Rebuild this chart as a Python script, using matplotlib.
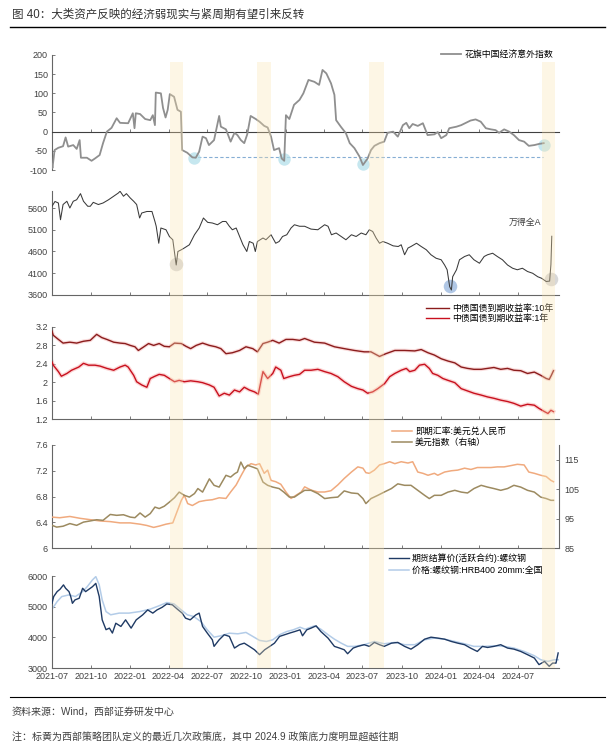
import matplotlib
matplotlib.use("Agg")
import matplotlib.pyplot as plt
import matplotlib.dates as mdates
import matplotlib.transforms as mtransforms
from matplotlib.patches import Rectangle
from matplotlib.lines import Line2D
import pandas as pd

plt.rcParams['font.family'] = ['Liberation Sans', 'Noto Sans CJK SC']
plt.rcParams['axes.unicode_minus'] = False

# ---- data ----
citi = [("2021-07-01", -85), ("2021-07-02", -95), ("2021-07-05", -68), ("2021-07-07", -48),
        ("2021-07-16", -42), ("2021-07-27", -38), ("2021-08-02", -15), ("2021-08-08", -39),
        ("2021-08-20", -35), ("2021-08-28", -45), ("2021-09-04", -22), ("2021-09-07", -68),
        ("2021-09-21", -68), ("2021-10-02", -76), ("2021-10-10", -70), ("2021-10-21", -61),
        ("2021-10-29", -30), ("2021-11-07", 0), ("2021-11-18", 10), ("2021-11-30", 35),
        ("2021-12-08", 23), ("2021-12-27", 22), ("2022-01-07", 48), ("2022-01-11", 9),
        ("2022-01-14", 48), ("2022-01-24", 46), ("2022-02-05", 33), ("2022-02-17", 30),
        ("2022-02-23", 43), ("2022-02-28", 17), ("2022-03-02", 102), ("2022-03-14", 100),
        ("2022-03-19", 62), ("2022-03-25", 37), ("2022-03-30", 57), ("2022-04-04", 98),
        ("2022-04-14", 91), ("2022-04-22", 57), ("2022-04-30", 52), ("2022-05-03", -48),
        ("2022-05-15", -55), ("2022-05-27", -67), ("2022-06-04", -68), ("2022-06-12", -52),
        ("2022-06-20", -13), ("2022-06-28", -17), ("2022-07-05", -35), ("2022-07-17", -22),
        ("2022-07-29", 41), ("2022-08-02", 13), ("2022-08-14", 6), ("2022-08-25", -26),
        ("2022-09-03", -3), ("2022-09-10", -9), ("2022-09-18", -22), ("2022-09-26", -30),
        ("2022-10-03", -7), ("2022-10-11", 41), ("2022-10-23", 33), ("2022-11-01", 26),
        ("2022-11-12", 15), ("2022-11-20", 11), ("2022-11-28", -13), ("2022-12-05", -48),
        ("2022-12-17", -43), ("2022-12-23", -70), ("2022-12-29", -76), ("2023-01-02", 43),
        ("2023-01-10", 33), ("2023-01-21", 70), ("2023-02-03", 83), ("2023-02-12", 100),
        ("2023-02-24", 135), ("2023-03-10", 130), ("2023-03-21", 122), ("2023-03-29", 161),
        ("2023-04-07", 152), ("2023-04-18", 126), ("2023-04-26", 96), ("2023-04-30", 30),
        ("2023-05-11", 13), ("2023-05-23", -4), ("2023-06-01", -30), ("2023-06-12", -43),
        ("2023-06-24", -65), ("2023-07-02", -87), ("2023-07-13", -70), ("2023-07-21", -48),
        ("2023-07-29", -37), ("2023-08-10", -30), ("2023-08-21", -26), ("2023-08-29", -3),
        ("2023-09-11", 0), ("2023-09-22", -13), ("2023-10-04", 17), ("2023-10-12", 23),
        ("2023-10-19", 9), ("2023-10-27", 20), ("2023-11-08", 15), ("2023-11-20", 22),
        ("2023-12-01", -9), ("2023-12-17", -7), ("2023-12-25", -1), ("2024-01-02", -17),
        ("2024-01-14", -9), ("2024-01-21", 9), ("2024-02-07", 13), ("2024-02-18", 17),
        ("2024-02-29", 23), ("2024-03-11", 29), ("2024-03-23", 32), ("2024-04-04", 26),
        ("2024-04-16", 9), ("2024-04-28", 6), ("2024-05-09", 4), ("2024-05-17", -3),
        ("2024-05-29", 6), ("2024-06-10", 0), ("2024-06-21", -9), ("2024-07-03", -22),
        ("2024-07-15", -26), ("2024-07-26", -37), ("2024-08-08", -35), ("2024-08-19", -32),
        ("2024-08-30", -30)]
citi_lows = [("2022-06-01", -68), ("2022-12-28", -72), ("2023-07-02", -84), ("2024-08-30", -35)]
citi_floor = [("2022-05-27", -66), ("2024-08-28", -66)]

wind = [("2021-07-01", 5640), ("2021-07-08", 5750), ("2021-07-16", 5715), ("2021-07-21", 5330),
        ("2021-07-27", 5680), ("2021-08-05", 5755), ("2021-08-12", 5600), ("2021-08-20", 5755),
        ("2021-08-28", 5790), ("2021-09-06", 5930), ("2021-09-13", 5755), ("2021-09-23", 5640),
        ("2021-09-29", 5640), ("2021-10-06", 5730), ("2021-10-18", 5680), ("2021-10-29", 5715),
        ("2021-11-11", 5790), ("2021-11-23", 5870), ("2021-12-04", 5945), ("2021-12-08", 5985),
        ("2021-12-16", 5870), ("2021-12-23", 5930), ("2022-01-01", 5830), ("2022-01-09", 5755),
        ("2022-01-16", 5680), ("2022-01-23", 5370), ("2022-01-28", 5485), ("2022-02-09", 5520),
        ("2022-02-21", 5520), ("2022-02-28", 5290), ("2022-03-03", 5180), ("2022-03-09", 4790),
        ("2022-03-14", 5140), ("2022-03-26", 5100), ("2022-04-03", 4945), ("2022-04-11", 4870),
        ("2022-04-19", 4290), ("2022-04-23", 4600), ("2022-05-01", 4640), ("2022-05-08", 4680),
        ("2022-05-20", 4755), ("2022-06-01", 4985), ("2022-06-12", 5140), ("2022-06-22", 5370),
        ("2022-07-02", 5270), ("2022-07-13", 5255), ("2022-07-25", 5215), ("2022-08-06", 5290),
        ("2022-08-14", 5290), ("2022-08-22", 5180), ("2022-08-29", 5100), ("2022-09-07", 5140),
        ("2022-09-15", 4945), ("2022-09-23", 4755), ("2022-10-02", 4600), ("2022-10-08", 4830),
        ("2022-10-17", 4790), ("2022-10-22", 4600), ("2022-10-27", 4830), ("2022-11-09", 4910),
        ("2022-11-16", 4870), ("2022-11-28", 4985), ("2022-12-09", 4790), ("2022-12-17", 4830),
        ("2022-12-25", 4945), ("2023-01-04", 4985), ("2023-01-14", 5140), ("2023-01-22", 5215),
        ("2023-02-03", 5180), ("2023-02-15", 5180), ("2023-03-02", 5115), ("2023-03-18", 5100),
        ("2023-04-03", 5215), ("2023-04-11", 5180), ("2023-04-19", 4985), ("2023-04-30", 5025),
        ("2023-05-12", 4945), ("2023-05-23", 4870), ("2023-06-05", 4985), ("2023-06-16", 4945),
        ("2023-06-28", 5025), ("2023-07-09", 4985), ("2023-07-17", 5100), ("2023-07-25", 5060),
        ("2023-08-02", 4910), ("2023-08-10", 4790), ("2023-08-18", 4830), ("2023-08-29", 4790),
        ("2023-09-11", 4730), ("2023-09-23", 4715), ("2023-09-30", 4755), ("2023-10-08", 4525),
        ("2023-10-16", 4680), ("2023-10-23", 4715), ("2023-11-05", 4790), ("2023-11-16", 4715),
        ("2023-11-28", 4640), ("2023-12-09", 4525), ("2023-12-21", 4445), ("2024-01-02", 4410),
        ("2024-01-10", 4290), ("2024-01-16", 4180), ("2024-01-22", 3790), ("2024-01-26", 3715),
        ("2024-01-29", 4020), ("2024-02-07", 4180), ("2024-02-14", 4410), ("2024-02-26", 4485),
        ("2024-03-08", 4525), ("2024-03-19", 4410), ("2024-04-01", 4330), ("2024-04-12", 4485),
        ("2024-04-20", 4525), ("2024-05-02", 4560), ("2024-05-13", 4485), ("2024-05-25", 4410),
        ("2024-06-06", 4290), ("2024-06-18", 4215), ("2024-06-29", 4180), ("2024-07-11", 4215),
        ("2024-07-23", 4140), ("2024-08-04", 4100), ("2024-08-16", 4020), ("2024-08-25", 3985),
        ("2024-09-05", 3910), ("2024-09-13", 3920), ("2024-09-16", 4300), ("2024-09-18", 4950)]
wind_lows_gray = [("2022-04-19", 4310), ("2024-09-16", 3960)]
wind_low_blue = [("2024-01-22", 3810)]

cgb10 = [("2021-07-01", 3.11), ("2021-07-04", 3.02), ("2021-07-16", 2.93), ("2021-07-27", 2.85),
         ("2021-08-12", 2.87), ("2021-08-28", 2.85), ("2021-09-13", 2.89), ("2021-09-29", 2.91),
         ("2021-10-14", 3.04), ("2021-10-26", 2.97), ("2021-11-07", 2.93), ("2021-11-23", 2.87),
         ("2021-12-08", 2.85), ("2021-12-20", 2.84), ("2022-01-01", 2.80), ("2022-01-12", 2.77),
         ("2022-01-20", 2.69), ("2022-02-02", 2.77), ("2022-02-13", 2.84), ("2022-02-25", 2.80),
         ("2022-03-10", 2.84), ("2022-03-22", 2.78), ("2022-04-03", 2.77), ("2022-04-15", 2.85),
         ("2022-05-01", 2.84), ("2022-05-12", 2.78), ("2022-05-23", 2.73), ("2022-06-05", 2.80),
         ("2022-06-20", 2.85), ("2022-07-06", 2.80), ("2022-07-21", 2.77), ("2022-08-02", 2.73),
         ("2022-08-14", 2.62), ("2022-08-29", 2.64), ("2022-09-15", 2.69), ("2022-09-30", 2.77),
         ("2022-10-16", 2.73), ("2022-10-27", 2.66), ("2022-11-09", 2.84), ("2022-11-20", 2.87),
         ("2022-12-02", 2.91), ("2022-12-17", 2.85), ("2023-01-02", 2.93), ("2023-01-18", 2.93),
         ("2023-02-03", 2.91), ("2023-02-15", 2.95), ("2023-03-10", 2.87), ("2023-04-03", 2.85),
         ("2023-04-26", 2.77), ("2023-05-19", 2.73), ("2023-06-12", 2.69), ("2023-07-05", 2.66),
         ("2023-07-21", 2.66), ("2023-08-10", 2.56), ("2023-08-25", 2.62), ("2023-09-15", 2.69),
         ("2023-10-08", 2.69), ("2023-11-01", 2.68), ("2023-11-16", 2.71), ("2023-12-02", 2.64),
         ("2023-12-17", 2.59), ("2024-01-02", 2.51), ("2024-01-18", 2.46), ("2024-02-03", 2.42),
         ("2024-02-18", 2.33), ("2024-03-04", 2.30), ("2024-03-19", 2.28), ("2024-04-05", 2.28),
         ("2024-04-20", 2.30), ("2024-05-05", 2.32), ("2024-05-21", 2.28), ("2024-06-06", 2.30),
         ("2024-06-21", 2.26), ("2024-07-07", 2.25), ("2024-07-23", 2.19), ("2024-08-08", 2.22),
         ("2024-08-23", 2.15), ("2024-09-05", 2.08), ("2024-09-12", 2.06), ("2024-09-17", 2.15),
         ("2024-09-22", 2.25)]

cgb1 = [("2021-07-01", 2.44), ("2021-07-04", 2.37), ("2021-07-16", 2.23), ("2021-07-23", 2.13),
        ("2021-08-05", 2.19), ("2021-08-16", 2.26), ("2021-09-02", 2.33), ("2021-09-13", 2.41),
        ("2021-09-25", 2.37), ("2021-10-10", 2.37), ("2021-10-22", 2.35), ("2021-11-07", 2.30),
        ("2021-11-23", 2.26), ("2021-12-08", 2.33), ("2021-12-20", 2.37), ("2021-12-27", 2.33),
        ("2022-01-09", 2.15), ("2022-01-16", 2.01), ("2022-01-28", 1.94), ("2022-02-09", 1.89),
        ("2022-02-17", 2.08), ("2022-02-28", 2.13), ("2022-03-10", 2.17), ("2022-03-22", 2.15),
        ("2022-04-03", 2.08), ("2022-04-15", 2.01), ("2022-04-26", 2.04), ("2022-05-08", 2.01),
        ("2022-05-23", 2.03), ("2022-06-09", 2.01), ("2022-06-20", 1.99), ("2022-07-06", 1.94),
        ("2022-07-17", 1.89), ("2022-07-29", 1.70), ("2022-08-10", 1.76), ("2022-08-22", 1.72),
        ("2022-09-03", 1.83), ("2022-09-15", 1.79), ("2022-09-26", 1.89), ("2022-10-08", 1.83),
        ("2022-10-20", 1.79), ("2022-10-29", 1.74), ("2022-11-09", 2.23), ("2022-11-20", 2.08),
        ("2022-12-02", 2.19), ("2022-12-09", 2.33), ("2022-12-21", 2.26), ("2022-12-28", 2.08),
        ("2023-01-10", 2.12), ("2023-01-22", 2.15), ("2023-02-03", 2.17), ("2023-02-15", 2.26),
        ("2023-03-02", 2.26), ("2023-03-18", 2.28), ("2023-04-03", 2.23), ("2023-04-18", 2.19),
        ("2023-05-04", 2.12), ("2023-05-19", 2.01), ("2023-06-05", 1.91), ("2023-06-20", 1.86),
        ("2023-07-02", 1.83), ("2023-07-13", 1.76), ("2023-07-25", 1.79), ("2023-08-06", 1.86),
        ("2023-08-22", 1.97), ("2023-09-03", 2.12), ("2023-09-15", 2.19), ("2023-09-30", 2.26),
        ("2023-10-12", 2.30), ("2023-10-20", 2.23), ("2023-11-01", 2.26), ("2023-11-12", 2.37),
        ("2023-11-24", 2.39), ("2023-12-05", 2.30), ("2023-12-13", 2.19), ("2023-12-25", 2.15),
        ("2024-01-06", 2.08), ("2024-01-18", 2.04), ("2024-02-03", 1.99), ("2024-02-18", 1.86),
        ("2024-03-04", 1.81), ("2024-03-19", 1.76), ("2024-04-05", 1.72), ("2024-04-20", 1.68),
        ("2024-05-05", 1.65), ("2024-05-21", 1.61), ("2024-06-06", 1.58), ("2024-06-21", 1.54),
        ("2024-07-07", 1.48), ("2024-07-23", 1.52), ("2024-08-08", 1.50), ("2024-08-19", 1.43),
        ("2024-09-01", 1.36), ("2024-09-09", 1.32), ("2024-09-16", 1.39), ("2024-09-22", 1.36)]

usdcny = [("2021-07-01", 6.48), ("2021-07-19", 6.47), ("2021-08-12", 6.49), ("2021-09-06", 6.46),
          ("2021-09-29", 6.44), ("2021-10-22", 6.42), ("2021-11-15", 6.41), ("2021-12-08", 6.39),
          ("2022-01-01", 6.39), ("2022-01-24", 6.37), ("2022-02-09", 6.35), ("2022-02-25", 6.32),
          ("2022-03-10", 6.34), ("2022-03-26", 6.37), ("2022-04-11", 6.39), ("2022-04-19", 6.53),
          ("2022-05-01", 6.74), ("2022-05-08", 6.82), ("2022-05-16", 6.69), ("2022-05-27", 6.66),
          ("2022-06-12", 6.72), ("2022-06-28", 6.74), ("2022-07-13", 6.75), ("2022-07-29", 6.78),
          ("2022-08-14", 6.77), ("2022-08-25", 6.87), ("2022-09-07", 6.98), ("2022-09-19", 7.13),
          ("2022-09-30", 7.26), ("2022-10-12", 7.31), ("2022-10-23", 7.29), ("2022-11-01", 7.31),
          ("2022-11-12", 7.16), ("2022-11-20", 7.21), ("2022-11-28", 7.05), ("2022-12-09", 7.03),
          ("2022-12-21", 6.99), ("2023-01-02", 6.87), ("2023-01-14", 6.77), ("2023-01-26", 6.82),
          ("2023-02-07", 6.87), ("2023-02-15", 6.95), ("2023-03-02", 6.90), ("2023-03-18", 6.87),
          ("2023-04-03", 6.87), ("2023-04-18", 6.89), ("2023-05-04", 6.98), ("2023-05-19", 7.08),
          ("2023-06-05", 7.18), ("2023-06-20", 7.26), ("2023-07-02", 7.24), ("2023-07-09", 7.17),
          ("2023-07-17", 7.16), ("2023-07-29", 7.21), ("2023-08-10", 7.29), ("2023-08-21", 7.31),
          ("2023-09-03", 7.34), ("2023-09-15", 7.31), ("2023-09-30", 7.34), ("2023-10-16", 7.32),
          ("2023-10-27", 7.34), ("2023-11-08", 7.18), ("2023-11-20", 7.16), ("2023-12-02", 7.13),
          ("2023-12-17", 7.16), ("2023-12-25", 7.13), ("2024-01-10", 7.18), ("2024-01-26", 7.20),
          ("2024-02-10", 7.21), ("2024-02-26", 7.24), ("2024-03-12", 7.22), ("2024-03-27", 7.25),
          ("2024-04-12", 7.25), ("2024-04-28", 7.25), ("2024-05-13", 7.26), ("2024-05-29", 7.26),
          ("2024-06-14", 7.28), ("2024-06-29", 7.30), ("2024-07-15", 7.29), ("2024-07-26", 7.18),
          ("2024-08-08", 7.16), ("2024-08-23", 7.13), ("2024-09-05", 7.11), ("2024-09-16", 7.05),
          ("2024-09-22", 7.03)]

dxy = [("2021-07-01", 92.7), ("2021-07-12", 92.1), ("2021-07-27", 92.4), ("2021-08-12", 93.3),
       ("2021-08-28", 92.7), ("2021-09-13", 93.8), ("2021-09-29", 94.2), ("2021-10-14", 94.6),
       ("2021-10-29", 94.4), ("2021-11-15", 96.4), ("2021-11-30", 96.1), ("2021-12-16", 96.3),
       ("2022-01-01", 95.5), ("2022-01-12", 95.3), ("2022-01-24", 96.9), ("2022-02-05", 95.5),
       ("2022-02-17", 96.7), ("2022-02-28", 98.9), ("2022-03-10", 98.4), ("2022-03-22", 99.2),
       ("2022-04-03", 100.6), ("2022-04-15", 102.1), ("2022-04-26", 104.0), ("2022-05-08", 102.9),
       ("2022-05-20", 102.3), ("2022-06-01", 103.5), ("2022-06-09", 105.2), ("2022-06-20", 104.0),
       ("2022-07-06", 108.5), ("2022-07-17", 106.3), ("2022-07-29", 105.7), ("2022-08-14", 109.7),
       ("2022-08-25", 109.1), ("2022-09-03", 110.2), ("2022-09-10", 110.8), ("2022-09-18", 114.2),
       ("2022-09-26", 111.9), ("2022-10-04", 113.1), ("2022-10-16", 112.5), ("2022-10-27", 111.9),
       ("2022-11-09", 107.4), ("2022-11-20", 106.3), ("2022-12-02", 105.7), ("2022-12-17", 105.2),
       ("2022-12-28", 104.0), ("2023-01-10", 102.3), ("2023-01-22", 102.3), ("2023-02-03", 103.5),
       ("2023-02-15", 104.6), ("2023-03-02", 104.6), ("2023-03-18", 103.5), ("2023-04-03", 101.8),
       ("2023-04-18", 102.1), ("2023-05-04", 102.3), ("2023-05-19", 104.4), ("2023-06-05", 103.7),
       ("2023-06-20", 103.5), ("2023-07-02", 101.8), ("2023-07-09", 100.1), ("2023-07-21", 101.8),
       ("2023-08-06", 102.9), ("2023-08-21", 104.0), ("2023-09-07", 105.2), ("2023-09-22", 106.8),
       ("2023-10-08", 106.3), ("2023-10-23", 106.3), ("2023-11-08", 104.6), ("2023-11-24", 102.9),
       ("2023-12-05", 101.8), ("2023-12-17", 102.9), ("2024-01-02", 102.9), ("2024-01-18", 104.0),
       ("2024-02-03", 104.6), ("2024-02-18", 104.0), ("2024-03-04", 103.7), ("2024-03-19", 105.2),
       ("2024-04-05", 106.3), ("2024-04-20", 105.7), ("2024-05-05", 105.2), ("2024-05-21", 104.6),
       ("2024-06-06", 105.2), ("2024-06-21", 106.3), ("2024-07-07", 105.7), ("2024-07-23", 104.6),
       ("2024-08-08", 104.0), ("2024-08-23", 102.3), ("2024-09-05", 101.8), ("2024-09-16", 101.2),
       ("2024-09-22", 101.2)]

rebar_fut = [("2021-07-01", 5110), ("2021-07-05", 5330), ("2021-07-13", 5490), ("2021-07-20", 5570),
             ("2021-07-28", 5710), ("2021-08-02", 5600), ("2021-08-10", 5490), ("2021-08-14", 5330),
             ("2021-08-18", 5110), ("2021-08-24", 5220), ("2021-09-03", 5275), ("2021-09-11", 5600),
             ("2021-09-18", 5490), ("2021-09-26", 5570), ("2021-10-04", 5650), ("2021-10-12", 5760),
             ("2021-10-20", 5330), ("2021-10-27", 4570), ("2021-11-05", 4250), ("2021-11-13", 4300),
             ("2021-11-20", 4140), ("2021-11-28", 4460), ("2021-12-10", 4355), ("2021-12-21", 4570),
             ("2022-01-03", 4300), ("2022-01-15", 4570), ("2022-01-30", 4730), ("2022-02-11", 4895),
             ("2022-02-23", 4790), ("2022-03-05", 4895), ("2022-03-17", 4980), ("2022-03-28", 5090),
             ("2022-04-10", 5060), ("2022-04-22", 4915), ("2022-05-03", 4790), ("2022-05-11", 4625),
             ("2022-05-22", 4570), ("2022-06-04", 4730), ("2022-06-12", 4790), ("2022-06-20", 4355),
             ("2022-07-01", 4140), ("2022-07-13", 3920), ("2022-07-17", 3705), ("2022-07-29", 3920),
             ("2022-08-10", 4085), ("2022-08-22", 4030), ("2022-09-03", 3650), ("2022-09-15", 3760),
             ("2022-09-26", 3810), ("2022-10-08", 3705), ("2022-10-20", 3595), ("2022-11-01", 3435),
             ("2022-11-13", 3595), ("2022-11-25", 3705), ("2022-12-06", 3810), ("2022-12-18", 4030),
             ("2022-12-30", 4085), ("2023-01-11", 4140), ("2023-01-23", 4190), ("2023-02-04", 4245),
             ("2023-02-10", 4050), ("2023-02-20", 4245), ("2023-03-02", 4300), ("2023-03-14", 4375),
             ("2023-03-25", 4190), ("2023-04-11", 3975), ("2023-04-26", 3705), ("2023-05-08", 3650),
             ("2023-05-19", 3595), ("2023-05-27", 3465), ("2023-06-09", 3650), ("2023-06-20", 3705),
             ("2023-07-05", 3760), ("2023-07-17", 3705), ("2023-07-29", 3835), ("2023-08-10", 3760),
             ("2023-08-21", 3705), ("2023-09-07", 3810), ("2023-09-22", 3835), ("2023-10-08", 3705),
             ("2023-10-23", 3615), ("2023-11-08", 3760), ("2023-11-24", 3940), ("2023-12-09", 4005),
             ("2023-12-25", 3975), ("2024-01-10", 3940), ("2024-01-26", 3865), ("2024-02-10", 3810),
             ("2024-02-26", 3760), ("2024-03-11", 3650), ("2024-03-27", 3540), ("2024-04-08", 3705),
             ("2024-04-20", 3670), ("2024-05-05", 3705), ("2024-05-21", 3760), ("2024-06-06", 3650),
             ("2024-06-21", 3615), ("2024-07-07", 3540), ("2024-07-23", 3435), ("2024-08-08", 3325),
             ("2024-08-19", 3110), ("2024-09-01", 3215), ("2024-09-12", 3055), ("2024-09-20", 3160),
             ("2024-09-28", 3160), ("2024-10-03", 3490)]

rebar_spot = [("2021-07-01", 4915), ("2021-07-13", 5165), ("2021-07-24", 5330), ("2021-08-10", 5385),
              ("2021-08-25", 5330), ("2021-09-11", 5490), ("2021-09-22", 5655), ("2021-10-04", 5870),
              ("2021-10-12", 5980), ("2021-10-20", 5710), ("2021-10-27", 5220), ("2021-11-05", 4840),
              ("2021-11-16", 4735), ("2021-12-06", 4790), ("2021-12-29", 4790), ("2022-01-23", 4840),
              ("2022-02-16", 4915), ("2022-03-09", 5025), ("2022-03-28", 5135), ("2022-04-14", 5090),
              ("2022-04-29", 4915), ("2022-05-15", 4735), ("2022-05-30", 4680), ("2022-06-16", 4515),
              ("2022-07-01", 4245), ("2022-07-17", 4005), ("2022-08-02", 4050), ("2022-08-22", 4135),
              ("2022-09-11", 4115), ("2022-09-30", 4160), ("2022-10-16", 4030), ("2022-11-01", 3900),
              ("2022-11-17", 3865), ("2022-12-02", 3920), ("2022-12-18", 4085), ("2023-01-04", 4190),
              ("2023-01-19", 4245), ("2023-02-04", 4330), ("2023-02-16", 4265), ("2023-03-10", 4375),
              ("2023-03-25", 4265), ("2023-04-11", 4085), ("2023-04-26", 3940), ("2023-05-12", 3810),
              ("2023-05-27", 3705), ("2023-06-12", 3705), ("2023-07-05", 3760), ("2023-07-29", 3865),
              ("2023-08-21", 3790), ("2023-09-15", 3835), ("2023-10-08", 3760), ("2023-11-01", 3760),
              ("2023-11-24", 3920), ("2023-12-17", 3975), ("2024-01-10", 3940), ("2024-02-03", 3865),
              ("2024-02-26", 3790), ("2024-03-19", 3705), ("2024-04-12", 3705), ("2024-05-05", 3725),
              ("2024-05-29", 3705), ("2024-06-21", 3650), ("2024-07-15", 3540), ("2024-08-08", 3400),
              ("2024-08-23", 3270), ("2024-09-09", 3215), ("2024-09-24", 3270), ("2024-10-03", 3270)]

# policy bottoms (yellow)
bands = [("2022-04-05", "2022-05-05"), ("2022-10-26", "2022-11-28"),
         ("2023-07-16", "2023-08-21"), ("2024-08-26", "2024-09-26")]

x_ticks = ["2021-07", "2021-10", "2022-01", "2022-04", "2022-07", "2022-10", "2023-01",
           "2023-04", "2023-07", "2023-10", "2024-01", "2024-04", "2024-07"]


def unzip(pairs):
    return pd.to_datetime([p[0] for p in pairs]), [p[1] for p in pairs]


W, H = 612, 746
fig = plt.figure(figsize=(W / 100, H / 100), dpi=100)
x0, x1 = pd.Timestamp("2021-07-01"), pd.Timestamp("2024-10-05")
AX = "#666666"
TXT = "#404040"


def px_axes(top, bottom, left=52, right=559):
    return fig.add_axes([left / W, 1 - bottom / H, (right - left) / W, (bottom - top) / H])


def style(ax, show_x=False):
    ax.set_facecolor("none")
    ax.spines["top"].set_visible(False)
    ax.spines["right"].set_visible(False)
    for s in ["left", "bottom"]:
        ax.spines[s].set_color(AX)
        ax.spines[s].set_linewidth(0.8)
    ax.tick_params(direction="in", length=2.5, width=0.6, color=AX,
                   labelsize=6.5, labelcolor=TXT, pad=3)
    ax.set_xlim(x0, x1)
    ax.set_xticks(pd.to_datetime(x_ticks))
    if show_x:
        ax.set_xticklabels(x_ticks)
    else:
        ax.set_xticklabels([])


# panel 1: citi surprise index
ax1 = px_axes(55, 170)
style(ax1)
d, v = unzip(citi)
ax1.plot(d, v, color="#8f8f8f", lw=1.3, zorder=3)
d, v = unzip(citi_floor)
ax1.plot(d, v, color="#86aed4", lw=0.8, ls=(0, (3, 2)), zorder=2)
d, v = unzip(citi_lows)
ax1.scatter(d, v, s=80, color="#b4e0ea", alpha=0.75, lw=0, zorder=2)
ax1.set_ylim(-100, 200)
ax1.set_yticks([-100, -50, 0, 50, 100, 150, 200])
ax1.spines["bottom"].set_position(("data", 0))
ax1.spines["bottom"].set_color("#404040")
ax1.legend(handles=[Line2D([], [], color="#8f8f8f", lw=1.3)], labels=["花旗中国经济意外指数"],
           loc="upper left", bbox_to_anchor=(441 / W, 1 - 50 / H), bbox_transform=fig.transFigure,
           frameon=False, fontsize=6.4, handlelength=2.3, handletextpad=0.3,
           borderaxespad=0, borderpad=0)

# panel 2: wind all A
ax2 = px_axes(190.6, 295)
style(ax2)
d, v = unzip(wind)
ax2.plot(d, v, color="#3a3a3a", lw=0.75, zorder=3)
d, v = unzip(wind_lows_gray)
ax2.scatter(d, v, s=95, color="#c8c8c8", alpha=0.7, lw=0, zorder=2)
d, v = unzip(wind_low_blue)
ax2.scatter(d, v, s=95, color="#9dbadf", alpha=0.8, lw=0, zorder=2)
ax2.set_ylim(3600, 6000)
ax2.set_yticks([3600, 4100, 4600, 5100, 5600])
ax2.text(0.933, 0.70, "万得全A", transform=ax2.transAxes, fontsize=6.4, color=TXT,
         ha="center", va="center")

# panel 3: government bond yields
ax3 = px_axes(327, 419)
style(ax3)
d, v = unzip(cgb10)
ax3.plot(d, v, color="#f2a6a6", lw=2.6, alpha=0.4, zorder=2)
l10, = ax3.plot(d, v, color="#8b1c1c", lw=1.0, zorder=3)
d, v = unzip(cgb1)
ax3.plot(d, v, color="#f7a3a3", lw=2.8, alpha=0.45, zorder=2)
l1, = ax3.plot(d, v, color="#c8101e", lw=1.0, zorder=3)
ax3.set_ylim(1.2, 3.2)
ax3.set_yticks([1.2, 1.6, 2.0, 2.4, 2.8, 3.2])
ax3.set_yticklabels(["1.2", "1.6", "2", "2.4", "2.8", "3.2"])
ax3.legend(handles=[l10, l1], labels=["中债国债到期收益率:10年", "中债国债到期收益率:1年"],
           loc="upper left", bbox_to_anchor=(426 / W, 1 - 304 / H), bbox_transform=fig.transFigure,
           frameon=False, fontsize=6.4, handlelength=2.6, handletextpad=0.3,
           labelspacing=0.15, borderaxespad=0, borderpad=0)

# panel 4: FX and dollar index
ax4 = px_axes(445, 548)
style(ax4)
d, v = unzip(usdcny)
lc, = ax4.plot(d, v, color="#f0aa7e", lw=1.1, zorder=3)
ax4.set_ylim(6, 7.6)
ax4.set_yticks([6, 6.4, 6.8, 7.2, 7.6])
ax4.set_yticklabels(["6", "6.4", "6.8", "7.2", "7.6"])
ax4r = ax4.twinx()
ax4r.set_facecolor("none")
ax4r.spines["top"].set_visible(False)
ax4r.spines["left"].set_visible(False)
ax4r.spines["bottom"].set_visible(False)
ax4r.spines["right"].set_color(AX)
ax4r.spines["right"].set_linewidth(0.8)
ax4r.tick_params(direction="in", length=2.5, width=0.6, color=AX, labelsize=6.5,
                 labelcolor=TXT, pad=4)
d, v = unzip(dxy)
ld, = ax4r.plot(d, v, color="#9c8a60", lw=1.1, zorder=3)
ax4r.set_ylim(85, 120)
ax4r.set_yticks([85, 95, 105, 115])
ax4r.set_xlim(x0, x1)
ax4.legend(handles=[lc, ld], labels=["即期汇率:美元兑人民币", "美元指数（右轴）"],
           loc="upper left", bbox_to_anchor=(392 / W, 1 - 427 / H), bbox_transform=fig.transFigure,
           frameon=False, fontsize=6.4, handlelength=2.3, handletextpad=0.3,
           labelspacing=0.2, borderaxespad=0, borderpad=0)

# panel 5: rebar
ax5 = px_axes(576, 668)
style(ax5, show_x=True)
d, v = unzip(rebar_spot)
ls_, = ax5.plot(d, v, color="#b3cce8", lw=1.1, zorder=2)
d, v = unzip(rebar_fut)
lf, = ax5.plot(d, v, color="#1f3a64", lw=1.0, zorder=3)
ax5.set_ylim(3000, 6000)
ax5.set_yticks([3000, 4000, 5000, 6000])
ax5.tick_params(axis="x", pad=3)
ax5.legend(handles=[lf, ls_], labels=["期货结算价(活跃合约):螺纹钢", "价格:螺纹钢:HRB400 20mm:全国"],
           loc="upper left", bbox_to_anchor=(389 / W, 1 - 553 / H), bbox_transform=fig.transFigure,
           frameon=False, fontsize=6.4, handlelength=2.3, handletextpad=0.3,
           labelspacing=0.35, borderaxespad=0, borderpad=0)

# yellow policy-bottom bands across all panels (light overlay)
trans = mtransforms.blended_transform_factory(ax5.transData, fig.transFigure)
yb, yt = 1 - 668 / H, 1 - 62 / H
for a, b in bands:
    xa = mdates.date2num(pd.Timestamp(a))
    xb = mdates.date2num(pd.Timestamp(b))
    fig.add_artist(Rectangle((xa, yb), xb - xa, yt - yb, transform=trans,
                             facecolor="#fbe4b0", alpha=0.32, lw=0, zorder=5))

# title, rules, notes
fig.text(12 / W, 1 - 15 / H, "图 40：大类资产反映的经济弱现实与紧周期有望引来反转",
         fontsize=8.3, color="#333333", va="center", ha="left")
fig.add_artist(Line2D([10 / W, 605 / W], [1 - 27 / H, 1 - 27 / H], color="black", lw=1.0))
fig.add_artist(Line2D([10 / W, 605 / W], [1 - 697 / H, 1 - 697 / H], color="black", lw=0.8))
fig.text(12 / W, 1 - 712 / H, "资料来源：Wind，西部证券研发中心", fontsize=7.2, color=TXT,
         va="center", ha="left")
fig.text(12 / W, 1 - 737 / H, "注：标黄为西部策略团队定义的最近几次政策底，其中 2024.9 政策底力度明显超越往期",
         fontsize=7.2, color=TXT, va="center", ha="left")

fig.savefig("out.png", dpi=100, facecolor="white")
